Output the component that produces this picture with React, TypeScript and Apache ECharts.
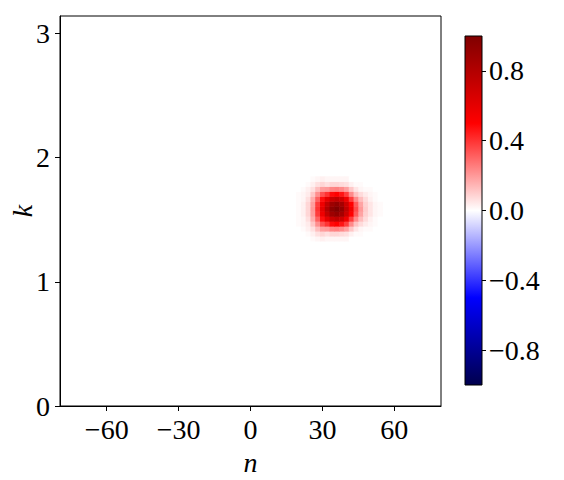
import React, { useEffect, useRef } from "react";
import * as echarts from "echarts";

// n positions of the sampled columns
const N_COLS = [20, 22, 24, 26, 28, 30, 32, 34, 36, 38, 40, 42, 44, 46, 48, 50, 52, 54];
// k positions of the sampled rows (bottom to top)
const K_ROWS = [1.35, 1.39, 1.43, 1.47, 1.51, 1.55, 1.59, 1.63, 1.67, 1.71, 1.75, 1.79, 1.83];
// values (rows follow K_ROWS)
const W_ROWS = [
  [0, 0, 0, 0.01, 0.02, 0.03, 0.02, 0.02, 0.02, 0.02, 0.02, 0, 0, 0, 0, 0, 0, 0],
  [0, 0, 0.01, 0.03, 0.06, 0.08, 0.06, 0.08, 0.08, 0.07, 0.06, 0.03, 0.01, 0.01, 0, 0, 0, 0],
  [0, 0.01, 0.03, 0.06, 0.13, 0.19, 0.2, 0.24, 0.25, 0.23, 0.19, 0.11, 0.05, 0.02, 0.01, 0.01, 0, 0],
  [0.01, 0.02, 0.04, 0.11, 0.22, 0.34, 0.4, 0.48, 0.5, 0.46, 0.38, 0.23, 0.12, 0.07, 0.04, 0.02, 0.01, 0],
  [0.01, 0.02, 0.06, 0.16, 0.31, 0.47, 0.6, 0.71, 0.75, 0.69, 0.56, 0.38, 0.23, 0.13, 0.07, 0.03, 0.01, 0],
  [0.01, 0.03, 0.08, 0.19, 0.38, 0.56, 0.74, 0.88, 0.93, 0.86, 0.7, 0.5, 0.32, 0.18, 0.09, 0.05, 0.02, 0.01],
  [0.01, 0.03, 0.08, 0.2, 0.4, 0.6, 0.8, 0.95, 1.0, 0.92, 0.75, 0.55, 0.35, 0.2, 0.1, 0.05, 0.02, 0.01],
  [0.01, 0.03, 0.08, 0.19, 0.38, 0.56, 0.74, 0.88, 0.93, 0.86, 0.7, 0.5, 0.32, 0.18, 0.09, 0.05, 0.02, 0.01],
  [0.01, 0.02, 0.06, 0.16, 0.31, 0.47, 0.6, 0.71, 0.75, 0.69, 0.56, 0.38, 0.23, 0.13, 0.07, 0.03, 0.01, 0],
  [0.01, 0.02, 0.04, 0.11, 0.22, 0.34, 0.4, 0.48, 0.5, 0.46, 0.38, 0.23, 0.12, 0.07, 0.04, 0.02, 0.01, 0],
  [0, 0.01, 0.03, 0.06, 0.13, 0.19, 0.2, 0.24, 0.25, 0.23, 0.19, 0.11, 0.05, 0.02, 0.01, 0.01, 0, 0],
  [0, 0, 0.01, 0.03, 0.06, 0.08, 0.06, 0.08, 0.08, 0.07, 0.06, 0.03, 0.01, 0.01, 0, 0, 0, 0],
  [0, 0, 0, 0.01, 0.02, 0.03, 0.02, 0.02, 0.02, 0.02, 0.02, 0, 0, 0, 0, 0, 0, 0],
];

const N_RANGE = [-79.5, 79.5];
const K_RANGE = [0, Math.PI];
const X_TICKS = [-60, -30, 0, 30, 60];
const Y_TICKS = [0, 1, 2, 3];
const CB_RANGE = [-1, 1];
const CB_TICKS = [-0.8, -0.4, 0, 0.4, 0.8];
const SEISMIC = ["#00004d", "#0000ff", "#ffffff", "#ff0000", "#800000"];

const FONT = "'Liberation Serif', 'DejaVu Serif', serif";
const FS = 28;

const fmtInt = (v: number) => (v < 0 ? "\u2212" + Math.abs(v) : String(v));
const fmtDec = (v: number) => (v < 0 ? "\u2212" + Math.abs(v).toFixed(1) : v.toFixed(1));

export default function App() {
  const ref = useRef<HTMLDivElement>(null);

  useEffect(() => {
    if (!ref.current) return;
    const chart = echarts.init(ref.current, undefined, { renderer: "svg" });

    const data: number[][] = [];
    K_ROWS.forEach((k, i) => {
      N_COLS.forEach((n, j) => {
        data.push([n, k, W_ROWS[i][j]]);
      });
    });
    const dn = (N_COLS[1] - N_COLS[0]) / 2;
    const dk = (K_ROWS[1] - K_ROWS[0]) / 2;

    const axisLine = { show: true, onZero: false, lineStyle: { color: "#000", width: 1 } };
    const tickBase = { show: true, inside: false, length: 5, lineStyle: { color: "#000", width: 1 } };

    chart.setOption({
      animation: false,
      backgroundColor: "#ffffff",
      grid: [
        {
          left: 60,
          top: 16,
          width: 381,
          height: 390,
          outerBoundsMode: "none",
          containLabel: false,
          show: true,
          backgroundColor: "#ffffff",
          borderColor: "#000",
          borderWidth: 1,
        },
        {
          left: 465,
          top: 36,
          width: 17,
          height: 349,
          outerBoundsMode: "none",
          containLabel: false,
          show: true,
          borderColor: "#000",
          borderWidth: 1,
          backgroundColor: new echarts.graphic.LinearGradient(0, 0, 0, 1, [
            { offset: 0, color: SEISMIC[4] },
            { offset: 0.25, color: SEISMIC[3] },
            { offset: 0.5, color: SEISMIC[2] },
            { offset: 0.75, color: SEISMIC[1] },
            { offset: 1, color: SEISMIC[0] },
          ]),
        },
      ],
      xAxis: [
        {
          type: "value",
          gridIndex: 0,
          min: N_RANGE[0],
          max: N_RANGE[1],
          axisLine,
          splitLine: { show: false },
          axisTick: { ...tickBase, customValues: X_TICKS },
          axisLabel: {
            customValues: X_TICKS,
            formatter: fmtInt,
            fontFamily: FONT,
            fontSize: FS,
            color: "#000",
            margin: 9,
          },
          name: "n",
          nameLocation: "middle",
          nameGap: 42,
          nameMoveOverlap: false,
          nameTextStyle: { fontFamily: FONT, fontSize: FS, fontStyle: "italic", color: "#000" },
        },
        {
          type: "value",
          gridIndex: 1,
          min: 0,
          max: 1,
          show: false,
        },
      ],
      yAxis: [
        {
          type: "value",
          gridIndex: 0,
          min: K_RANGE[0],
          max: K_RANGE[1],
          axisLine,
          splitLine: { show: false },
          axisTick: { ...tickBase, customValues: Y_TICKS },
          axisLabel: {
            customValues: Y_TICKS,
            formatter: fmtInt,
            fontFamily: FONT,
            fontSize: FS,
            color: "#000",
            margin: 10,
          },
          name: "k",
          nameLocation: "middle",
          nameGap: 24,
          nameRotate: 90,
          nameMoveOverlap: false,
          nameTextStyle: { fontFamily: FONT, fontSize: FS, fontStyle: "italic", color: "#000" },
        },
        {
          type: "value",
          gridIndex: 1,
          position: "right",
          min: CB_RANGE[0],
          max: CB_RANGE[1],
          axisLine: { show: false, onZero: false },
          splitLine: { show: false },
          axisTick: {
            show: true,
            inside: false,
            length: 4,
            customValues: CB_TICKS,
            lineStyle: { color: "#000", width: 1 },
          },
          axisLabel: {
            customValues: CB_TICKS,
            formatter: fmtDec,
            fontFamily: FONT,
            fontSize: FS,
            color: "#000",
            margin: 7,
          },
        },
      ],
      visualMap: {
        show: false,
        type: "continuous",
        min: CB_RANGE[0],
        max: CB_RANGE[1],
        dimension: 2,
        seriesIndex: 0,
        inRange: { color: SEISMIC },
      },
      series: [
        {
          type: "custom",
          xAxisIndex: 0,
          yAxisIndex: 0,
          data,
          encode: { x: 0, y: 1 },
          renderItem: (params: any, api: any) => {
            const n = api.value(0);
            const k = api.value(1);
            const p0 = api.coord([n - dn, k + dk]);
            const p1 = api.coord([n + dn, k - dk]);
            return {
              type: "rect",
              shape: {
                x: p0[0],
                y: p0[1],
                width: p1[0] - p0[0] + 0.6,
                height: p1[1] - p0[1] + 0.6,
              },
              style: { fill: api.visual("color"), stroke: null },
            };
          },
        },
      ],
    });

    return () => chart.dispose();
  }, []);

  return (
    <div
      ref={ref}
      style={{ position: "absolute", left: 0, top: 0, width: 564, height: 480 }}
    />
  );
}
